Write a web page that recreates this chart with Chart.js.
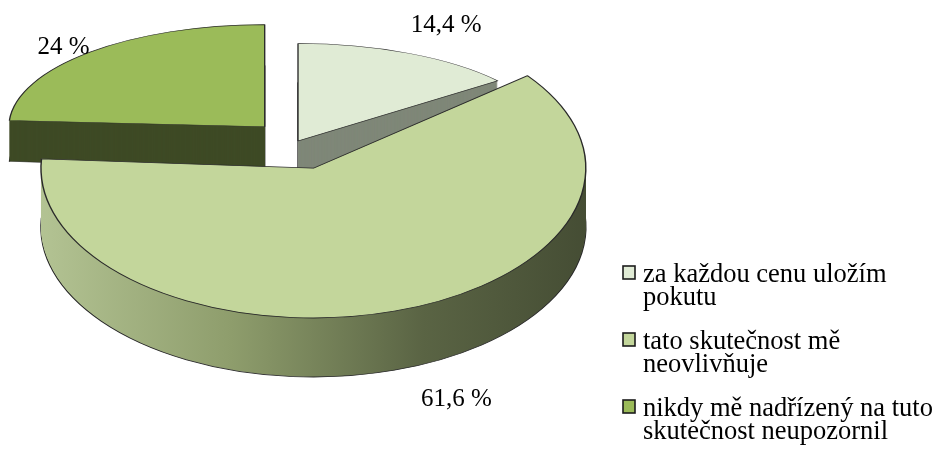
<!DOCTYPE html>
<html>
<head>
<meta charset="utf-8">
<script src="https://cdn.jsdelivr.net/npm/chart.js@4.4.1/dist/chart.umd.min.js"></script>
<style>
  html, body { margin: 0; padding: 0; background: #fff; }
  #wrap { position: relative; width: 936px; height: 452px; }
</style>
</head>
<body>
<div id="wrap">
  <canvas id="myPieChart"></canvas>
</div>
<script>
// 3D PIE (tilted, exploded)

var categories = [
  ["za každou cenu uložím", "pokutu"],
  ["tato skutečnost mě", "neovlivňuje"],
  ["nikdy mě nadřízený na tuto", "skutečnost neupozornil"],
];
var values = [14.4, 61.6, 24];

var topColors = ["#e0ebd5", "#c3d69b", "#9bbb59"];
var sideColors = ["#7f8778", null, "#3e4a25"]; // null = shaded gradient
var explode = [0, 50, 50];
var labelNudge = [[37, -21], [62, 35], [-26, 2]];

// fake perspective: back slices a bit smaller and flatter
var R = 263, tilt = 0.467, persX = 0.0375, persY = 0.23, depth = 49, persD = 0.22;
var serif = '"Liberation Serif", "Times New Roman", serif';

function fmt(v) {
  return String(v).replace(".", ",") + " %";
}

function sliceGeom(arc) {
  var mid = (arc.startAngle + arc.endAngle) / 2;
  var f = Math.sin(mid);
  return { mid: mid, kx: 1 + persX * f, ky: tilt * (1 + persY * f), d: depth * (1 + persD * f) };
}

function applyView(ctx, arc, g, e, lift) {
  ctx.translate(arc.x, arc.y + lift);
  ctx.scale(g.kx, g.ky);
  ctx.translate(-arc.x + e * Math.cos(g.mid), -arc.y + e * Math.sin(g.mid));
}

function drawWith(ctx, arc, opts) {
  var base = arc.options;
  arc.options = Object.assign({}, base, opts);
  arc.draw(ctx);
  arc.options = base;
}

var pie3d = {
  id: "pie3d",
  beforeDatasetsDraw: function (chart) {
    var ctx = chart.ctx;
    var arcs = chart.getDatasetMeta(0).data;
    var order = arcs.map(function (a, i) { return i; });
    order.sort(function (a, b) { return sliceGeom(arcs[a]).ky - sliceGeom(arcs[b]).ky; });

    order.forEach(function (i) {
      var arc = arcs[i];
      var g = sliceGeom(arc);
      var e = explode[i];
      var side = sideColors[i];
      if (!side) {
        side = ctx.createLinearGradient(arc.x - R, 0, arc.x + R, 0);
        side.addColorStop(0, "#b3c393");
        side.addColorStop(0.35, "#8e9d6c");
        side.addColorStop(0.7, "#5a6444");
        side.addColorStop(1, "#454d34");
      }
      var n = Math.round(g.d);
      for (var k = n; k >= 1; k--) {
        ctx.save();
        applyView(ctx, arc, g, e, k);
        drawWith(ctx, arc, { backgroundColor: side, borderWidth: k === n ? 1.4 : 0 });
        ctx.restore();
      }
      ctx.save();
      applyView(ctx, arc, g, e, 0);
      arc.draw(ctx);
      ctx.restore();
    });
    return false;
  },
  afterDraw: function (chart) {
    var ctx = chart.ctx;
    var arcs = chart.getDatasetMeta(0).data;
    ctx.save();
    ctx.font = "25px " + serif;
    ctx.fillStyle = "#000";
    ctx.textAlign = "center";
    ctx.textBaseline = "alphabetic";
    arcs.forEach(function (arc, i) {
      var g = sliceGeom(arc);
      var r = explode[i] + arc.outerRadius;
      var px = arc.x + g.kx * r * Math.cos(g.mid);
      var py = arc.y + g.ky * r * Math.sin(g.mid) + (Math.sin(g.mid) > 0 ? g.d : 0);
      ctx.fillText(fmt(values[i]), px + labelNudge[i][0], py + labelNudge[i][1]);
    });

    // legend on the right, two lines per entry
    ctx.textAlign = "left";
    ctx.font = "26.5px " + serif;
    var boxX = 623, textX = 643, base = 282, lineGap = 23, itemGap = 67;
    categories.forEach(function (lines, i) {
      var y = base + i * itemGap;
      ctx.fillStyle = topColors[i];
      ctx.fillRect(boxX, y - 16, 12, 13);
      ctx.lineWidth = 1.6;
      ctx.strokeStyle = "#1c1c1c";
      ctx.strokeRect(boxX, y - 16, 12, 13);
      ctx.fillStyle = "#000";
      lines.forEach(function (t, j) {
        ctx.fillText(t, textX, y + j * lineGap);
      });
    });
    ctx.restore();
  },
};

var myPieChart = document.getElementById("myPieChart");

var pieConfig = {
  type: "pie",
  data: {
    labels: categories,
    datasets: [
      {
        data: values,
        backgroundColor: topColors,
        borderColor: "#2a2a2a",
        borderWidth: 1.4,
        radius: R,
      },
    ],
  },
  options: {
    responsive: true,
    maintainAspectRatio: false,
    devicePixelRatio: 1,
    animation: false,
    events: [],
    layout: { padding: { left: 0, top: 0, right: 340, bottom: 170 } },
    plugins: {
      legend: { display: false },
      tooltip: { enabled: false },
    },
  },
  plugins: [pie3d],
};

var pieChart = new Chart(myPieChart, pieConfig);
</script>
</body>
</html>
